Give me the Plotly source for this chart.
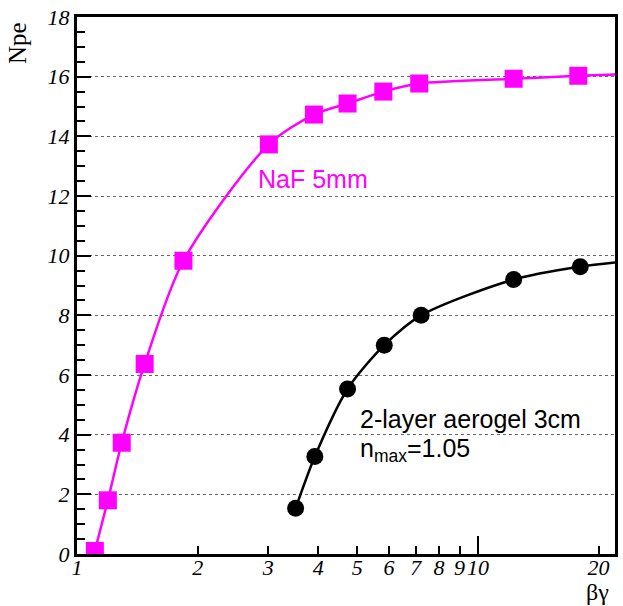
import plotly.graph_objects as go

# NaF 5mm (magenta squares)
naf_bg = [1.108, 1.194, 1.293, 1.475, 1.843, 3.01, 3.90, 4.73, 5.81, 7.14, 12.28, 17.8]
naf_npe = [0.1, 1.8, 3.73, 6.37, 9.83, 13.73, 14.73, 15.1, 15.5, 15.77, 15.93, 16.03]

# 2-layer aerogel 3cm (black circles)
aero_bg = [3.51, 3.92, 4.73, 5.84, 7.22, 12.28, 18.0]
aero_npe = [1.53, 3.27, 5.53, 7.0, 8.0, 9.2, 9.63]

# fitted curves (data points + end at right frame)
naf_curve_bg = naf_bg + [22.0]
naf_curve_npe = naf_npe + [16.07]
aero_curve_bg = aero_bg + [22.0]
aero_curve_npe = aero_npe + [9.77]

x_tickvals = [1, 2, 3, 4, 5, 6, 7, 8, 9, 10, 20]
x_ticktext = ["1", "2", "3", "4", "5", "6", "7", "8", "9", "10", "20"]
y_tickvals = [0, 2, 4, 6, 8, 10, 12, 14, 16, 18]

MAG = "#ff00ff"
tickfont = dict(family="Liberation Serif", size=22, color="black", style="italic")
textfont = "Liberation Sans"

fig = go.Figure()
fig.add_trace(go.Scatter(x=naf_curve_bg, y=naf_curve_npe, mode="lines",
                         line=dict(color=MAG, width=2.5, shape="spline", smoothing=0.8),
                         hoverinfo="skip"))
fig.add_trace(go.Scatter(x=aero_curve_bg, y=aero_curve_npe, mode="lines",
                         line=dict(color="black", width=2.5, shape="spline", smoothing=0.8),
                         hoverinfo="skip"))
fig.add_trace(go.Scatter(x=naf_bg, y=naf_npe, mode="markers",
                         marker=dict(symbol="square", size=18, color=MAG, line=dict(width=0))))
fig.add_trace(go.Scatter(x=aero_bg, y=aero_npe, mode="markers",
                         marker=dict(symbol="circle", size=17, color="black", line=dict(width=0))))

fig.add_annotation(x=0.4467, y=12.57, xref="x", yref="y", text="NaF 5mm", showarrow=False,
                   xanchor="left", yanchor="middle",
                   font=dict(family=textfont, size=25, color=MAG))
fig.add_annotation(x=0.702, y=4.53, xref="x", yref="y", text="2-layer aerogel 3cm", showarrow=False,
                   xanchor="left", yanchor="middle",
                   font=dict(family=textfont, size=25, color="black"))
fig.add_annotation(x=0.702, y=3.5, xref="x", yref="y", text="n<sub>max</sub>=1.05", showarrow=False,
                   xanchor="left", yanchor="middle",
                   font=dict(family=textfont, size=25, color="black"))

fig.add_annotation(x=-0.111, y=0.995, xref="paper", yref="paper", text="Npe", showarrow=False,
                   textangle=-90, xanchor="center", yanchor="top",
                   font=dict(family="Liberation Serif", size=25, color="black"))
fig.add_annotation(x=0.993, y=-0.042, xref="paper", yref="paper", text="βγ", showarrow=False,
                   xanchor="right", yanchor="top",
                   font=dict(family="Liberation Serif", size=24, color="black"))

fig.update_layout(
    width=623, height=606,
    margin=dict(l=77, r=5, t=15, b=52),
    paper_bgcolor="white", plot_bgcolor="white",
    showlegend=False,
)
fig.update_xaxes(type="log", range=[0, 1.342],
                 tickmode="array", tickvals=x_tickvals, ticktext=x_ticktext,
                 ticks="inside", ticklen=8, tickwidth=1.5, tickcolor="black",
                 tickangle=0, tickfont=tickfont, ticklabelstandoff=-8,
                 minor=dict(tickmode="array", tickvals=[10], ticks="inside", ticklen=18,
                            tickwidth=1.5, tickcolor="black", showgrid=False),
                 showline=True, linewidth=3, linecolor="black", mirror=True,
                 showgrid=False, zeroline=False)
fig.update_yaxes(range=[0, 18], tickmode="array", tickvals=y_tickvals,
                 ticks="inside", ticklen=14, tickwidth=1.5, tickcolor="black",
                 tickfont=tickfont,
                 minor=dict(dtick=0.5, ticks="inside", ticklen=8, tickwidth=1.5,
                            tickcolor="black", showgrid=False),
                 showline=True, linewidth=3, linecolor="black", mirror=True,
                 showgrid=True, gridcolor="#666666", griddash="dot", gridwidth=1,
                 zeroline=False)

fig.write_html("out.html", config={"displayModeBar": False},
               post_script="document.body.style.margin='0';document.body.style.padding='0';")
